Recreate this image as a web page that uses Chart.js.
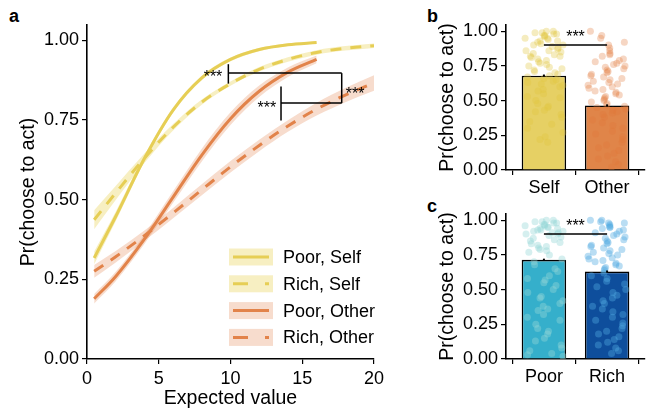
<!DOCTYPE html>
<html>
<head>
<meta charset="utf-8">
<script src="https://cdn.jsdelivr.net/npm/chart.js@4.4.1/dist/chart.umd.min.js"></script>
<style>
  body { margin: 0; width: 646px; height: 411px; position: relative; overflow: hidden; background: #fff;
         font-family: "Liberation Sans", Arial, Helvetica, sans-serif; }
  canvas { position: absolute; }
  #chartA { left: 0; top: 0; }
  #chartB { left: 390px; top: 0; }
  #chartC { left: 390px; top: 195px; }
  .tag { position: absolute; font-weight: bold; font-size: 18px; line-height: 18px; }
</style>
</head>
<body>
<div class="tag" style="left:9px;top:7px">a</div>
<div class="tag" style="left:427px;top:7px">b</div>
<div class="tag" style="left:427px;top:197px">c</div>
<canvas id="chartA" width="390" height="411"></canvas>
<canvas id="chartB" width="259" height="200"></canvas>
<canvas id="chartC" width="259" height="216"></canvas>
<script>
// ---- panel a: fitted choice curves (x = expected value) ----
const evPoor = [0.5, 2, 4, 6, 8, 10, 12, 14, 16];
const evRich = [0.5, 2, 4, 6, 8, 10, 12, 14, 16, 18, 20];
const poorSelf = [0.317, 0.447, 0.629, 0.781, 0.882, 0.940, 0.971, 0.986, 0.993];
const poorSelfCI = [0.02, 0.015, 0.01, 0.008, 0.007, 0.006, 0.005, 0.004, 0.003];
const richSelf = [0.437, 0.521, 0.630, 0.727, 0.806, 0.864, 0.909, 0.940, 0.962, 0.975, 0.983];
const richSelfCI = [0.03, 0.022, 0.015, 0.01, 0.008, 0.007, 0.007, 0.007, 0.007, 0.007, 0.007];
const poorOther = [0.189, 0.259, 0.376, 0.508, 0.640, 0.754, 0.840, 0.900, 0.940];
const poorOtherCI = [0.015, 0.015, 0.015, 0.018, 0.02, 0.02, 0.018, 0.015, 0.012];
const richOther = [0.275, 0.321, 0.387, 0.458, 0.531, 0.603, 0.670, 0.731, 0.784, 0.828, 0.866];
const richOtherCI = [0.02, 0.018, 0.016, 0.016, 0.017, 0.018, 0.018, 0.018, 0.02, 0.022, 0.024];
const legendLabels = ['Poor, Self', 'Rich, Self', 'Poor, Other', 'Rich, Other'];
const evTicks = [0, 5, 10, 15, 20];
const yTicks = [0, 0.25, 0.5, 0.75, 1];

// ---- panel b: self vs other ----
const agentCats = ['Self', 'Other'];
const agentMeans = [0.68, 0.465];
const agentSems = [0.008, 0.008];
const selfPts = [1.00,1.00,0.99,0.99,0.98,0.98,0.97,0.97,0.96,0.95,0.95,0.94,0.93,0.93,0.92,0.91,0.90,0.90,0.89,0.88,
  0.87,0.86,0.86,0.85,0.84,0.83,0.82,0.82,0.81,0.80,0.79,0.78,0.77,0.76,0.75,0.74,0.73,0.72,0.71,0.70,
  0.69,0.68,0.67,0.66,0.65,0.64,0.63,0.62,0.61,0.60,0.58,0.57,0.55,0.53,0.52,0.50,0.48,0.46,0.45,0.43,
  0.42,0.40,0.38,0.35,0.33,0.30,0.27,0.24,0.22,0.20];
const otherPts = [1.00,0.97,0.95,0.92,0.90,0.88,0.86,0.84,0.83,0.82,0.80,0.79,0.78,0.77,0.76,0.75,0.74,0.73,0.72,0.71,
  0.70,0.69,0.68,0.67,0.66,0.65,0.64,0.63,0.62,0.61,0.60,0.59,0.58,0.57,0.56,0.55,0.54,0.53,0.52,0.51,
  0.50,0.49,0.48,0.47,0.46,0.45,0.44,0.43,0.42,0.41,0.40,0.38,0.36,0.34,0.32,0.30,0.28,0.26,0.24,0.22,
  0.20,0.18,0.16,0.14,0.12,0.10,0.08,0.06,0.04,0.02];

// ---- panel c: poor vs rich ----
const wealthCats = ['Poor', 'Rich'];
const wealthMeans = [0.715, 0.63];
const wealthSems = [0.008, 0.008];
const poorPts = [1.00,1.00,0.99,0.99,0.98,0.98,0.97,0.97,0.96,0.96,0.95,0.95,0.94,0.94,0.93,0.93,0.92,0.92,0.91,0.91,
  0.90,0.90,0.89,0.88,0.87,0.86,0.85,0.84,0.83,0.82,0.81,0.80,0.79,0.78,0.77,0.75,0.72,0.70,0.68,0.65,
  0.63,0.60,0.58,0.55,0.53,0.50,0.48,0.45,0.42,0.40,0.38,0.35,0.32,0.30,0.28,0.25,0.22,0.20,0.18,0.15,
  0.13,0.10,0.08,0.06,0.04,0.03,0.02,0.57,0.44,0.36];
const richPts = [1.00,1.00,0.99,0.98,0.98,0.97,0.96,0.95,0.95,0.94,0.93,0.92,0.91,0.90,0.89,0.88,0.87,0.86,0.85,0.84,
  0.83,0.82,0.81,0.80,0.79,0.78,0.77,0.76,0.75,0.74,0.73,0.72,0.71,0.70,0.69,0.68,0.67,0.66,0.65,0.64,
  0.62,0.60,0.58,0.56,0.54,0.52,0.50,0.48,0.46,0.44,0.42,0.40,0.38,0.36,0.34,0.32,0.30,0.28,0.26,0.24,
  0.22,0.20,0.18,0.16,0.14,0.12,0.10,0.08,0.06,0.04];

const FONT = '"Liberation Sans", Arial, Helvetica, sans-serif';
Chart.defaults.font.family = FONT;
Chart.defaults.color = '#000';
Chart.defaults.animation = false;
Chart.defaults.plugins.legend.display = false;
Chart.defaults.plugins.tooltip.enabled = false;

const yellow = '#E6CE55', yellowBand = 'rgba(236,216,110,0.42)';
const orange = '#E2834A', orangeBand = 'rgba(226,131,74,0.28)';

const axisGrid = { drawOnChartArea: false, drawTicks: true, tickLength: 5, color: '#000', lineWidth: 1.2 };
const axisBorder = { display: true, color: '#000', width: 1.6 };

function yAxis(max, width, titlePad) {
  return {
    type: 'linear', min: 0, max: max,
    afterBuildTicks: s => { s.ticks = yTicks.map(v => ({ value: v })); },
    afterFit: s => { s.width = width; },
    ticks: { font: { size: 18 }, padding: 3, callback: v => Number(v).toFixed(2) },
    grid: axisGrid,
    border: axisBorder,
    title: { display: true, text: 'Pr(choose to act)', font: { size: 19.5 }, padding: { top: titlePad, bottom: 0 } }
  };
}

function xy(xs, ys, off) {
  return xs.map((x, i) => ({ x: x, y: ys[i] + (off ? off[i] : 0) }));
}
function neg(a) { return a.map(v => -v); }

function band(xs, ys, ci, color) {
  const base = { borderWidth: 0, borderColor: 'rgba(0,0,0,0)', pointRadius: 0, cubicInterpolationMode: 'monotone', order: 2 };
  return [
    Object.assign({ data: xy(xs, ys, ci), fill: '+1', backgroundColor: color }, base),
    Object.assign({ data: xy(xs, ys, neg(ci)), fill: false }, base)
  ];
}
function curve(xs, ys, color, dash) {
  return { data: xy(xs, ys), borderColor: color, borderWidth: 3, borderDash: dash, pointRadius: 0,
           fill: false, cubicInterpolationMode: 'monotone', order: 1 };
}

// brackets and stars of panel a, in data units
const bracketSegs = [[9.85, 0.925, 9.85, 0.864], [9.85, 0.897, 17.75, 0.897], [17.75, 0.897, 17.75, 0.803],
                     [13.52, 0.803, 17.75, 0.803], [13.52, 0.855, 13.52, 0.748]];
const starSpots = [[8.78, 0.898], [12.54, 0.80], [18.68, 0.845]];

const panelAExtras = {
  id: 'panelAExtras',
  afterDraw(chart) {
    const { ctx, chartArea, scales: { x, y } } = chart;
    ctx.save();
    ctx.strokeStyle = '#000';
    ctx.lineWidth = 1.5;
    bracketSegs.forEach(s => {
      ctx.beginPath();
      ctx.moveTo(x.getPixelForValue(s[0]), y.getPixelForValue(s[1]));
      ctx.lineTo(x.getPixelForValue(s[2]), y.getPixelForValue(s[3]));
      ctx.stroke();
    });
    ctx.fillStyle = '#000';
    ctx.font = '16px ' + FONT;
    ctx.textAlign = 'center';
    ctx.textBaseline = 'alphabetic';
    starSpots.forEach(p => ctx.fillText('***', x.getPixelForValue(p[0]), y.getPixelForValue(p[1]) + 9));

    // legend: ribbon box + line key
    const keyColors = [yellow, yellow, orange, orange];
    const boxColors = [yellowBand, yellowBand, orangeBand, orangeBand];
    const left = chartArea.right - 145;
    legendLabels.forEach((lab, i) => {
      const cy = chartArea.bottom - 102 + i * 26.8;
      ctx.fillStyle = boxColors[i];
      ctx.fillRect(left, cy - 8.5, 44, 17);
      ctx.strokeStyle = keyColors[i];
      ctx.lineWidth = 3;
      ctx.setLineDash(i % 2 ? [15, 17] : []);
      ctx.beginPath();
      ctx.moveTo(left + 4, cy);
      ctx.lineTo(left + 40, cy);
      ctx.stroke();
      ctx.setLineDash([]);
      ctx.fillStyle = '#000';
      ctx.font = '18px ' + FONT;
      ctx.textAlign = 'left';
      ctx.textBaseline = 'middle';
      ctx.fillText(lab, left + 54, cy + 1);
    });
    ctx.restore();
  }
};

new Chart(document.getElementById('chartA'), {
  type: 'line',
  data: {
    datasets: [
      ...band(evPoor, poorSelf, poorSelfCI, yellowBand),
      ...band(evRich, richSelf, richSelfCI, yellowBand),
      ...band(evPoor, poorOther, poorOtherCI, orangeBand),
      ...band(evRich, richOther, richOtherCI, orangeBand),
      curve(evPoor, poorSelf, yellow, []),
      curve(evRich, richSelf, yellow, [11, 9]),
      curve(evPoor, poorOther, orange, []),
      curve(evRich, richOther, orange, [11, 9])
    ]
  },
  options: {
    responsive: false,
    layout: { padding: { top: 25, right: 16, left: 0, bottom: 0 } },
    scales: {
      x: {
        type: 'linear', min: 0, max: 20,
        afterBuildTicks: s => { s.ticks = evTicks.map(v => ({ value: v })); },
        afterFit: s => { s.height = 52; },
        ticks: { font: { size: 18 }, padding: 4, maxRotation: 0 },
        grid: axisGrid,
        border: axisBorder,
        title: { display: true, text: 'Expected value', font: { size: 19.5 }, padding: { top: 0, bottom: 1 } }
      },
      y: yAxis(1.048, 87, 17)
    }
  },
  plugins: [panelAExtras]
});

// ---- bar panels ----
const barExtras = {
  id: 'barExtras',
  afterDatasetsDraw(chart, args, opts) {
    const { ctx, scales: { x, y } } = chart;
    ctx.save();
    ctx.strokeStyle = '#000';
    ctx.lineWidth = 2;
    opts.means.forEach((m, k) => {
      const px = x.getPixelForValue(k + 1);
      ctx.beginPath();
      ctx.moveTo(px, y.getPixelForValue(m - opts.sems[k]));
      ctx.lineTo(px, y.getPixelForValue(m + opts.sems[k]));
      ctx.stroke();
    });
    ctx.lineWidth = 1.5;
    ctx.beginPath();
    ctx.moveTo(x.getPixelForValue(1), y.getPixelForValue(0.9));
    ctx.lineTo(x.getPixelForValue(2), y.getPixelForValue(0.9));
    ctx.stroke();
    ctx.fillStyle = '#000';
    ctx.font = '16px ' + FONT;
    ctx.textAlign = 'center';
    ctx.fillText('***', x.getPixelForValue(1.5), y.getPixelForValue(0.985) + 9);
    ctx.restore();
  }
};

// horizontal jitter of the dots (display only, like geom_jitter)
function jitter(i, k) {
  const h = Math.sin((i + 1) * 12.9898 + (k + 1) * 78.233) * 43758.5453;
  return (h - Math.floor(h) - 0.5) * 0.62;
}

function barPanel(id, cats, means, sems, pts, barColors, ptColors, topPad, xHeight) {
  const scatters = pts.map((vals, k) => ({
    type: 'scatter',
    data: vals.map((v, i) => ({ x: k + 1 + jitter(i, k), y: v })),
    backgroundColor: ptColors[k], borderWidth: 0, pointRadius: 3.5, order: 1
  }));
  return new Chart(document.getElementById(id), {
    type: 'bar',
    data: {
      datasets: [{
        data: means.map((m, k) => ({ x: k + 1, y: m })),
        backgroundColor: barColors, borderColor: '#000', borderWidth: 1.6,
        categoryPercentage: 0.8, barPercentage: 0.88, order: 2
      }, ...scatters]
    },
    options: {
      responsive: false,
      layout: { padding: { top: topPad, right: 0, left: 0, bottom: 0 } },
      plugins: { barExtras: { means: means, sems: sems } },
      scales: {
        x: {
          type: 'linear', min: 0.4, max: 2.6, offset: false,
          afterBuildTicks: s => { s.ticks = [{ value: 1 }, { value: 2 }]; },
          afterFit: s => { s.height = xHeight; },
          ticks: { font: { size: 18 }, padding: 2, maxRotation: 0, callback: v => cats[Math.round(v) - 1] },
          grid: axisGrid,
          border: axisBorder
        },
        y: yAxis(1.045, 116, 46)
      }
    },
    plugins: [barExtras]
  });
}

barPanel('chartB', agentCats, agentMeans, agentSems, [selfPts, otherPts],
  ['#E6D064', '#E08549'], ['rgba(224,196,60,0.33)', 'rgba(224,120,55,0.3)'], 25, 30);
barPanel('chartC', wealthCats, wealthMeans, wealthSems, [poorPts, richPts],
  ['#35AFCB', '#0E4E9C'], ['rgba(150,215,215,0.4)', 'rgba(80,170,225,0.4)'], 19, 52);
</script>
</body>
</html>
